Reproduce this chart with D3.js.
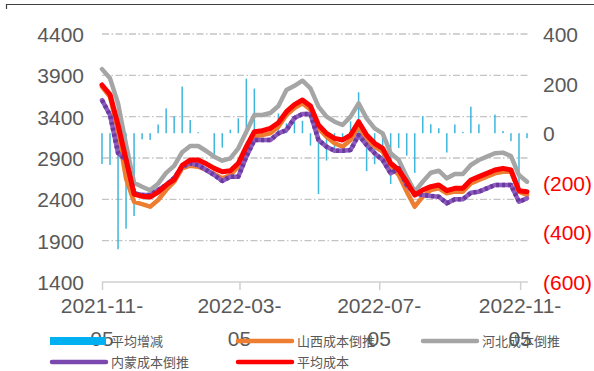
<!DOCTYPE html>
<html><head><meta charset="utf-8">
<script src="https://cdn.jsdelivr.net/npm/d3@7"></script>
<style>html,body{margin:0;padding:0;background:#fff;}svg{display:block;}</style>
</head><body>
<svg id="c" width="594" height="371"></svg>
<script>
const startDate = "2021-11-05";
const weeks = 54;
const tickDates = ["2021-11-05","2022-03-05","2022-07-05","2022-11-05"];
const leftTicks = [1400,1900,2400,2900,3400,3900,4400];
const rightTicks = [-600,-400,-200,0,200,400];

const avgChange = [-124,-128,-468,-385,-334,-25,-27,35,100,68,188,53,4,0,-88,-58,14,60,220,180,20,25,80,40,65,50,-50,-245,-110,-80,-30,48,165,-153,-125,-100,-205,-60,-90,-160,68,36,20,-78,35,5,107,36,0,75,9,-32,-240,-20];
const shanxi = [3760,3640,3220,2650,2370,2343,2311,2392,2513,2613,2775,2807,2795,2755,2706,2654,2694,2795,2997,3158,3178,3198,3279,3420,3505,3561,3483,3259,3158,3078,3037,3118,3279,3118,3037,2977,2795,2694,2493,2311,2432,2513,2533,2473,2493,2493,2593,2634,2674,2714,2734,2734,2493,2452];
const hebei = [3975,3864,3560,3060,2600,2553,2509,2590,2720,2805,2970,3045,3045,2985,2916,2868,2896,3017,3218,3420,3420,3444,3529,3723,3773,3835,3743,3521,3400,3339,3299,3400,3561,3380,3259,3198,2957,2876,2674,2493,2613,2722,2746,2654,2706,2706,2815,2876,2916,2957,2965,2924,2694,2613];
const neimeng = [3600,3420,2960,2880,2476,2452,2452,2513,2573,2658,2795,2836,2815,2755,2694,2622,2674,2674,2916,3118,3118,3118,3198,3238,3385,3432,3432,3118,3037,2989,2989,2997,3178,3057,2957,2876,2714,2775,2573,2473,2452,2440,2432,2352,2400,2400,2480,2493,2533,2573,2573,2573,2371,2412];
const avgCost = [3783,3668,3300,2880,2464,2436,2428,2487,2573,2638,2811,2876,2876,2829,2775,2734,2746,2836,3037,3218,3230,3259,3327,3460,3545,3602,3529,3299,3198,3138,3118,3178,3339,3178,3078,3017,2836,2755,2613,2452,2513,2553,2573,2505,2533,2533,2634,2674,2714,2755,2775,2755,2505,2493];

const seriesNames = ["平均增减","山西成本倒推","河北成本倒推","内蒙成本倒推","平均成本"];
const colors = {bar:"#00B0F0", shanxi:"#ED7D31", hebei:"#A5A5A5", neimeng:"#7B48B0", avg:"#FF0000"};

const parse = d3.timeParse("%Y-%m-%d");
const t0 = parse(startDate);
const dates = d3.range(weeks).map(i => d3.timeDay.offset(t0, 7*i));

const svg = d3.select("#c");
const x = d3.scaleTime().domain([dates[0], dates[dates.length-1]]).range([102, 527]);
const yL = d3.scaleLinear().domain([1400, 4400]).range([282, 34]);
const yR = d3.scaleLinear().domain([-600, 400]).range([282, 34]);

// frame fragment
svg.append("path").attr("d","M6.5,9V4.5H594").attr("fill","none").attr("stroke","#404040").attr("stroke-width",1.2);

// grid
svg.append("g").selectAll("line").data(leftTicks.filter(d=>d>1400)).join("line")
  .attr("x1",102).attr("x2",528).attr("y1",d=>yL(d)).attr("y2",d=>yL(d))
  .attr("stroke","#C4C4C4").attr("stroke-width",1.3).attr("stroke-dasharray","7,2.5,1.5,2.5");

// x axis
const xAxis = d3.axisBottom(x).tickValues(tickDates.map(parse)).tickSize(8).tickFormat("");
const gx = svg.append("g").attr("transform","translate(0,282)").call(xAxis);
gx.select(".domain").attr("stroke","#D0D0D0").attr("stroke-width",1.5).attr("d","M102,0H528");
gx.selectAll(".tick line").attr("stroke","#D0D0D0").attr("stroke-width",1.5);

const fmtDate = d3.timeFormat("%Y-%m-");
const fmtDay = d3.timeFormat("%d");
const xl = svg.append("g").selectAll("g").data(tickDates.map(parse)).join("g");
xl.append("text").attr("x",d=>x(d)).attr("y",313).attr("text-anchor","middle")
  .attr("font-family","Liberation Sans, Arial, sans-serif").attr("font-size",21).attr("fill","#595959").text(d=>fmtDate(d));
xl.append("text").attr("x",d=>x(d)).attr("y",346).attr("text-anchor","middle")
  .attr("font-family","Liberation Sans, Arial, sans-serif").attr("font-size",21).attr("fill","#595959").text(d=>fmtDay(d));

// left axis labels
const gl = svg.append("g").attr("transform","translate(84,0)")
  .call(d3.axisLeft(yL).tickValues(leftTicks).tickSize(0).tickPadding(0).tickFormat(d3.format("d")));
gl.select(".domain").remove();
gl.selectAll("text").attr("font-family","Liberation Sans, Arial, sans-serif").attr("font-size",21).attr("fill","#595959").attr("dy","0.36em");

// right axis labels
const gr = svg.append("g").attr("transform","translate(543,0)")
  .call(d3.axisRight(yR).tickValues(rightTicks).tickSize(0).tickPadding(0)
    .tickFormat(d => d < 0 ? "(" + Math.abs(d) + ")" : String(d)));
gr.select(".domain").remove();
gr.selectAll("text").attr("font-family","Liberation Sans, Arial, sans-serif").attr("font-size",21)
  .attr("fill",d => d < 0 ? "#FF0000" : "#595959").attr("dy","0.36em");

// bars
svg.append("g").selectAll("rect").data(avgChange.map((v,i)=>({v,d:dates[i]}))).join("rect")
  .attr("x",p=>x(p.d)-0.75).attr("width",1.5)
  .attr("y",p=>Math.min(yR(p.v),yR(0))).attr("height",p=>Math.abs(yR(p.v)-yR(0)))
  .attr("fill","#3FB6DC");

const line = d3.line().x((v,i)=>x(dates[i])).y(v=>yL(v)).curve(d3.curveLinear);
function drawLine(data, color, w, extra){
  const p = svg.append("path").datum(data).attr("d",line).attr("fill","none")
    .attr("stroke",color).attr("stroke-width",w).attr("stroke-linejoin","round").attr("stroke-linecap","round");
  return p;
}
drawLine(shanxi, colors.shanxi, 4.5);
drawLine(hebei, colors.hebei, 4.5);
drawLine(neimeng, "#8E5CC0", 4.5);
drawLine(neimeng, "#6B3A9E", 4.5).attr("stroke-dasharray","3,3").attr("stroke-linecap","butt");
drawLine(avgCost, colors.avg, 5);

// legend
const lg = svg.append("g").attr("font-family","Noto Sans CJK SC, sans-serif").attr("font-size",13).attr("fill","#595959");
const items = [
  {n:seriesNames[0], c:colors.bar, type:"rect", x:50, y:341},
  {n:seriesNames[1], c:colors.shanxi, type:"line", x:236, y:341},
  {n:seriesNames[2], c:colors.hebei, type:"line", x:421, y:341},
  {n:seriesNames[3], c:colors.neimeng, type:"line", x:50, y:362},
  {n:seriesNames[4], c:colors.avg, type:"line", x:236, y:362}
];
items.forEach(it=>{
  if(it.type==="rect"){
    lg.append("rect").attr("x",it.x).attr("y",it.y-4).attr("width",56).attr("height",8).attr("fill",it.c);
  } else {
    lg.append("line").attr("x1",it.x+2).attr("x2",it.x+56).attr("y1",it.y).attr("y2",it.y)
      .attr("stroke",it.c).attr("stroke-width",4.5).attr("stroke-linecap","round");
  }
  lg.append("text").attr("x",it.x+61).attr("y",it.y).attr("dy","0.35em").text(it.n);
});
</script>
</body></html>
